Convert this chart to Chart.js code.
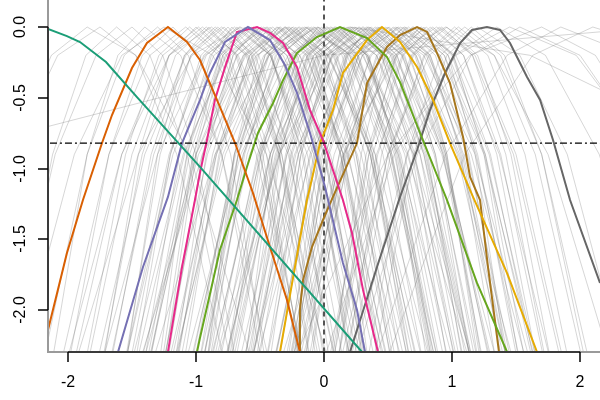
<!DOCTYPE html>
<html>
<head>
<meta charset="utf-8">
<script src="https://cdn.jsdelivr.net/npm/chart.js@4"></script>
<style>
  html, body { margin: 0; padding: 0; background: #fff; }
</style>
</head>
<body>
<canvas id="chart" width="600" height="400"></canvas>
<script>
// axis ticks
const xTicks = [-2, -1, 0, 1, 2];
const yTicks = [0, -0.5, -1, -1.5, -2];
const yTickLabels = ['0.0', '-0.5', '-1.0', '-1.5', '-2.0'];
const cutoff = -0.82;

// highlighted profiles
const tealX = [-2.156, -2.008, -1.906, -1.703, -1.461, -0.969, 0.297];
const tealY = [-0.014, -0.064, -0.106, -0.247, -0.495, -0.989, -2.297];

const orangeX = [-2.156, -2.008, -1.883, -1.734, -1.656, -1.5, -1.383, -1.219, -1.07, -0.969, -0.813, -0.695, -0.555, -0.422, -0.289, -0.188];
const orangeY = [-2.141, -1.597, -1.223, -0.82, -0.622, -0.29, -0.113, 0, -0.106, -0.233, -0.565, -0.82, -1.173, -1.555, -1.929, -2.297];

const purpleX = [-1.609, -1.414, -1.219, -1.109, -0.969, -0.891, -0.773, -0.594, -0.422, -0.305, -0.211, -0.109, 0.008, 0.148, 0.258, 0.32];
const purpleY = [-2.297, -1.696, -1.201, -0.82, -0.516, -0.325, -0.106, 0, -0.092, -0.269, -0.466, -0.749, -1.131, -1.668, -2.0, -2.297];

const pinkX = [-1.219, -1.109, -1.008, -0.969, -0.914, -0.852, -0.773, -0.68, -0.523, -0.422, -0.32, -0.211, -0.109, -0.008, 0.148, 0.219, 0.305, 0.422];
const pinkY = [-2.297, -1.696, -1.223, -1.032, -0.799, -0.516, -0.283, -0.035, 0, -0.042, -0.113, -0.283, -0.587, -0.799, -1.223, -1.456, -1.859, -2.297];

const greenX = [-0.992, -0.969, -0.813, -0.68, -0.602, -0.516, -0.398, -0.32, -0.211, -0.055, 0.125, 0.336, 0.492, 0.594, 0.75, 0.961, 1.195, 1.43];
const greenY = [-2.297, -2.198, -1.576, -1.223, -0.989, -0.749, -0.537, -0.375, -0.184, -0.071, 0, -0.078, -0.212, -0.389, -0.749, -1.223, -1.809, -2.297];

const yellowX = [-0.344, -0.227, -0.133, -0.109, -0.031, 0.07, 0.148, 0.336, 0.453, 0.594, 0.727, 0.852, 0.984, 1.164, 1.43, 1.664];
const yellowY = [-2.297, -1.696, -1.223, -1.131, -0.82, -0.587, -0.325, -0.092, 0, -0.106, -0.283, -0.516, -0.82, -1.201, -1.739, -2.297];

const brownX = [-0.188, -0.188, -0.164, -0.094, -0.008, 0.07, 0.258, 0.336, 0.492, 0.594, 0.727, 0.805, 0.883, 0.984, 1.086, 1.141, 1.219, 1.281, 1.367];
const brownY = [-2.297, -2.0, -1.788, -1.555, -1.364, -1.201, -0.82, -0.396, -0.141, -0.057, 0, -0.035, -0.184, -0.396, -0.777, -1.06, -1.223, -1.696, -2.297];

const darkX = [0.203, 0.414, 0.594, 0.727, 0.828, 0.945, 1.063, 1.156, 1.273, 1.375, 1.453, 1.586, 1.688, 1.789, 1.922, 2.156];
const darkY = [-2.297, -1.696, -1.201, -0.869, -0.587, -0.325, -0.113, -0.021, 0, -0.021, -0.113, -0.353, -0.516, -0.799, -1.223, -1.809];

// background profiles: x positions where each grey curve meets these levels
const greyLevels = [-2.4, -0.9, -0.2, 0, -0.2, -0.9, -2.4];
const greyCurves = [
  [-2.83, -2.45, -2.13, -1.85, -1.47, -1.05, -0.55],
  [-2.89, -2.45, -2.08, -1.75, -1.47, -1.15, -0.77],
  [-2.44, -2.12, -1.86, -1.62, -1.36, -1.07, -0.72],
  [-2.48, -2.10, -1.78, -1.50, -1.26, -1.00, -0.68],
  [-2.13, -1.85, -1.61, -1.40, -1.12, -0.80, -0.42],
  [-2.20, -1.85, -1.56, -1.30, -1.06, -0.80, -0.48],
  [-2.00, -1.68, -1.42, -1.18, -0.97, -0.73, -0.45],
  [-2.06, -1.68, -1.36, -1.08, -0.82, -0.53, -0.18],
  [-1.73, -1.45, -1.21, -1.00, -0.76, -0.50, -0.18],
  [-1.85, -1.50, -1.21, -0.95, -0.67, -0.35, 0.03],
  [-1.55, -1.30, -1.09, -0.90, -0.69, -0.45, -0.17],
  [-1.67, -1.35, -1.09, -0.85, -0.61, -0.35, -0.03],
  [-1.78, -1.40, -1.08, -0.80, -0.54, -0.25, 0.10],
  [-1.48, -1.20, -0.96, -0.75, -0.56, -0.35, -0.10],
  [-1.52, -1.20, -0.94, -0.70, -0.42, -0.10, 0.28],
  [-1.56, -1.21, -0.92, -0.66, -0.42, -0.16, 0.16],
  [-1.27, -1.02, -0.81, -0.62, -0.41, -0.17, 0.11],
  [-1.56, -1.18, -0.86, -0.58, -0.34, -0.08, 0.24],
  [-1.37, -1.05, -0.79, -0.55, -0.29, 0.00, 0.35],
  [-1.23, -0.95, -0.71, -0.50, -0.26, 0.00, 0.32],
  [-1.37, -1.02, -0.73, -0.47, -0.19, 0.13, 0.51],
  [-1.26, -0.94, -0.68, -0.44, -0.25, -0.04, 0.21],
  [-1.38, -1.00, -0.68, -0.40, -0.14, 0.15, 0.50],
  [-1.10, -0.82, -0.58, -0.37, -0.13, 0.13, 0.45],
  [-1.16, -0.84, -0.58, -0.34, -0.06, 0.26, 0.64],
  [-1.20, -0.85, -0.56, -0.30, -0.09, 0.15, 0.43],
  [-0.92, -0.67, -0.46, -0.27, -0.03, 0.23, 0.55],
  [-1.22, -0.84, -0.52, -0.24, 0.04, 0.36, 0.74],
  [-1.02, -0.70, -0.44, -0.20, 0.01, 0.25, 0.53],
  [-0.90, -0.62, -0.38, -0.17, 0.09, 0.38, 0.73],
  [-1.04, -0.69, -0.40, -0.14, 0.10, 0.36, 0.68],
  [-0.92, -0.60, -0.34, -0.10, 0.18, 0.50, 0.88],
  [-1.05, -0.67, -0.35, -0.07, 0.14, 0.38, 0.66],
  [-0.77, -0.49, -0.25, -0.04, 0.20, 0.46, 0.78],
  [-0.82, -0.50, -0.24, 0.00, 0.26, 0.55, 0.90],
  [-0.87, -0.52, -0.23, 0.03, 0.27, 0.53, 0.85],
  [-0.59, -0.34, -0.13, 0.06, 0.34, 0.66, 1.04],
  [-0.89, -0.51, -0.19, 0.09, 0.33, 0.59, 0.91],
  [-0.70, -0.38, -0.12, 0.12, 0.33, 0.57, 0.85],
  [-0.58, -0.30, -0.06, 0.15, 0.41, 0.70, 1.05],
  [-0.72, -0.37, -0.08, 0.18, 0.46, 0.78, 1.16],
  [-0.61, -0.29, -0.03, 0.21, 0.45, 0.71, 1.03],
  [-0.74, -0.36, -0.04, 0.24, 0.45, 0.69, 0.97],
  [-0.46, -0.18, 0.06, 0.27, 0.53, 0.82, 1.17],
  [-0.52, -0.20, 0.06, 0.30, 0.54, 0.80, 1.12],
  [-0.57, -0.22, 0.07, 0.33, 0.61, 0.93, 1.31],
  [-0.29, -0.04, 0.17, 0.36, 0.57, 0.81, 1.09],
  [-0.58, -0.20, 0.12, 0.40, 0.66, 0.95, 1.30],
  [-0.39, -0.07, 0.19, 0.43, 0.67, 0.93, 1.25],
  [-0.27, 0.01, 0.25, 0.46, 0.74, 1.06, 1.44],
  [-0.40, -0.05, 0.24, 0.50, 0.71, 0.95, 1.23],
  [-0.28, 0.04, 0.30, 0.54, 0.80, 1.09, 1.44],
  [-0.40, -0.02, 0.30, 0.58, 0.82, 1.08, 1.40],
  [-0.11, 0.17, 0.41, 0.62, 0.83, 1.07, 1.35],
  [-0.16, 0.16, 0.42, 0.66, 0.94, 1.26, 1.64],
  [-0.20, 0.15, 0.44, 0.70, 0.94, 1.20, 1.52],
  [0.10, 0.35, 0.56, 0.75, 1.01, 1.30, 1.65],
  [-0.18, 0.20, 0.52, 0.80, 1.01, 1.25, 1.53],
  [0.03, 0.35, 0.61, 0.85, 1.09, 1.35, 1.67],
  [0.17, 0.45, 0.69, 0.90, 1.18, 1.50, 1.88],
  [0.06, 0.41, 0.70, 0.96, 1.20, 1.46, 1.78],
  [0.20, 0.52, 0.78, 1.02, 1.28, 1.57, 1.92],
  [0.12, 0.50, 0.82, 1.10, 1.38, 1.70, 2.08],
  [0.38, 0.70, 0.96, 1.20, 1.53, 1.90, 2.34],
  [0.21, 0.65, 1.02, 1.35, 1.73, 2.15, 2.65],
  [0.23, 0.73, 1.15, 1.53, 2.00, 2.53, 3.16],
  [0.38, 0.95, 1.43, 1.85, 2.41, 3.05, 3.81],
  [0.47, 1.10, 1.63, 2.10, 2.81, 3.60, 4.55],
  [-6.50, -3.00, 0.00, 2.60, 3.20, 4.00, 5.00],
  [-0.78, -0.40, -0.08, 0.20, 1.61, 3.20, 5.09],
  [-2.02, -1.58, -1.21, -0.88, -0.60, -0.28, 0.10],
  [-1.29, -1.07, -0.88, -0.72, -0.51, -0.27, 0.01],
  [-1.74, -1.30, -0.93, -0.60, -0.34, -0.05, 0.30],
  [-1.17, -0.92, -0.71, -0.52, -0.19, 0.18, 0.62],
  [-1.51, -1.10, -0.76, -0.45, -0.26, -0.05, 0.20],
  [-0.92, -0.70, -0.51, -0.35, -0.11, 0.15, 0.47],
  [-1.42, -0.98, -0.61, -0.28, 0.03, 0.37, 0.78],
  [-0.95, -0.67, -0.43, -0.22, -0.06, 0.13, 0.35],
  [-1.18, -0.77, -0.43, -0.12, 0.21, 0.58, 1.02],
  [-0.62, -0.40, -0.21, -0.05, 0.16, 0.40, 0.68],
  [-1.09, -0.65, -0.28, 0.05, 0.31, 0.60, 0.95],
  [-0.63, -0.35, -0.11, 0.10, 0.41, 0.75, 1.16],
  [-0.90, -0.49, -0.15, 0.16, 0.35, 0.56, 0.81],
  [-0.43, -0.18, 0.03, 0.22, 0.55, 0.92, 1.36],
  [-0.86, -0.42, -0.05, 0.28, 0.52, 0.78, 1.10],
  [-0.23, -0.01, 0.18, 0.34, 0.62, 0.94, 1.32],
  [-0.64, -0.23, 0.11, 0.42, 0.63, 0.87, 1.15],
  [-0.25, 0.03, 0.27, 0.48, 0.81, 1.18, 1.62],
  [-0.58, -0.14, 0.23, 0.56, 0.75, 0.96, 1.21],
  [0.07, 0.29, 0.48, 0.64, 0.90, 1.19, 1.54],
  [-0.26, 0.12, 0.44, 0.72, 1.03, 1.37, 1.78],
  [0.05, 0.33, 0.57, 0.78, 0.97, 1.18, 1.43],
  [-0.26, 0.18, 0.55, 0.88, 1.16, 1.48, 1.86],
  [-1.45, -0.95, -0.53, -0.15, 0.23, 0.65, 1.15],
  [-0.85, -0.35, 0.07, 0.45, 0.78, 1.15, 1.59],
  [-1.95, -1.45, -1.03, -0.65, -0.32, 0.05, 0.49],
  [-0.35, 0.15, 0.57, 0.95, 1.33, 1.75, 2.25],
  [-2.39, -1.95, -1.58, -1.25, -0.87, -0.45, 0.05],
  [-0.02, 0.55, 1.03, 1.45, 1.97, 2.55, 3.24],
  [-0.26, 0.50, 1.14, 1.70, 2.12, 2.60, 3.17],
  [-1.74, -1.42, -1.16, -0.92, -0.68, -0.42, -0.10],
  [-1.68, -1.33, -1.04, -0.78, -0.57, -0.33, -0.05],
  [-1.41, -1.13, -0.89, -0.68, -0.42, -0.13, 0.22],
  [-1.39, -1.07, -0.81, -0.57, -0.29, 0.03, 0.41],
  [-1.47, -1.09, -0.77, -0.49, -0.25, 0.01, 0.33],
  [-1.15, -0.87, -0.63, -0.42, -0.21, 0.03, 0.31],
  [-1.26, -0.91, -0.62, -0.36, -0.10, 0.19, 0.54],
  [-1.13, -0.81, -0.55, -0.31, -0.03, 0.29, 0.67],
  [-0.98, -0.70, -0.46, -0.25, -0.01, 0.25, 0.57],
  [-1.17, -0.79, -0.47, -0.19, 0.07, 0.36, 0.71],
  [-0.95, -0.63, -0.37, -0.13, 0.08, 0.32, 0.60],
  [-0.98, -0.63, -0.34, -0.08, 0.20, 0.52, 0.90],
  [-0.75, -0.47, -0.23, -0.02, 0.24, 0.53, 0.88],
  [-0.96, -0.58, -0.26, 0.02, 0.26, 0.52, 0.84],
  [-0.74, -0.42, -0.16, 0.08, 0.34, 0.63, 0.98],
  [-0.77, -0.42, -0.13, 0.13, 0.34, 0.58, 0.86],
  [-0.54, -0.26, -0.02, 0.19, 0.47, 0.79, 1.17],
  [-0.57, -0.25, 0.01, 0.25, 0.49, 0.75, 1.07],
  [-0.67, -0.29, 0.03, 0.31, 0.57, 0.86, 1.21],
  [-0.36, -0.08, 0.16, 0.37, 0.61, 0.87, 1.19],
  [-0.46, -0.11, 0.18, 0.44, 0.72, 1.04, 1.42],
  [-0.31, 0.01, 0.27, 0.51, 0.72, 0.96, 1.24],
  [-0.16, 0.12, 0.36, 0.57, 0.83, 1.12, 1.47],
  [-0.27, 0.08, 0.37, 0.63, 0.87, 1.13, 1.45],
  [-0.13, 0.19, 0.45, 0.69, 0.97, 1.29, 1.67],
  [-0.22, 0.16, 0.48, 0.76, 1.00, 1.26, 1.58],
  [0.10, 0.38, 0.62, 0.83, 1.09, 1.38, 1.73],
  [0.10, 0.42, 0.68, 0.92, 1.16, 1.42, 1.74],
  [0.15, 0.50, 0.79, 1.05, 1.33, 1.65, 2.03],
  [-1.87, -1.55, -1.29, -1.05, -0.79, -0.50, -0.15],
  [-1.96, -1.58, -1.26, -0.98, -0.74, -0.48, -0.16],
  [-1.56, -1.28, -1.04, -0.83, -0.59, -0.33, -0.01],
  [0.33, 0.65, 0.91, 1.15, 1.41, 1.70, 2.05],
  [-1.25, -1.00, -0.79, -0.60, -0.41, -0.20, 0.05],
  [-0.79, -0.35, 0.02, 0.35, 0.68, 1.05, 1.49],
  [-1.44, -1.00, -0.63, -0.30, 0.03, 0.40, 0.84],
  [-0.54, -0.10, 0.27, 0.60, 0.91, 1.25, 1.66],
  [-1.35, -0.85, -0.43, -0.05, 0.30, 0.70, 1.17]
];

const toPoints = (xs, ys) => xs.map((x, i) => ({ x: x, y: ys[i] }));

function profile(xs, ys, color) {
  return {
    data: toPoints(xs, ys),
    borderColor: color,
    borderWidth: 2,
    order: 1
  };
}

const datasets = [
  profile(tealX, tealY, '#1B9E77'),
  profile(orangeX, orangeY, '#D95F02'),
  profile(purpleX, purpleY, '#7570B3'),
  profile(pinkX, pinkY, '#E7298A'),
  profile(greenX, greenY, '#66A61E'),
  profile(yellowX, yellowY, '#E6AB02'),
  profile(brownX, brownY, '#A6761D'),
  profile(darkX, darkY, '#666666'),
  {
    // cutoff line
    data: [{ x: -3, y: cutoff }, { x: 3, y: cutoff }],
    borderColor: '#000',
    borderWidth: 1.2,
    borderDash: [2, 3, 7, 3],
    order: 0
  },
  {
    data: [{ x: 0, y: -3 }, { x: 0, y: 1 }],
    borderColor: '#555',
    borderWidth: 2,
    borderDash: [5, 4],
    order: 2
  }
];

greyCurves.forEach(function (xs) {
  datasets.push({
    data: toPoints(xs, greyLevels),
    borderColor: 'rgba(120,120,120,0.3)',
    borderWidth: 1,
    order: 5
  });
});

datasets.forEach(function (d) {
  d.showLine = true;
  d.pointRadius = 0;
  d.tension = 0;
  d.clip = 0;
});

const axesPlugin = {
  id: 'axes',
  afterDraw(chart) {
    const ctx = chart.ctx;
    const a = chart.chartArea;
    const x = chart.scales.x;
    const y = chart.scales.y;
    ctx.save();

    // light frame
    ctx.strokeStyle = '#9a9a9a';
    ctx.lineWidth = 2;
    ctx.beginPath();
    ctx.moveTo(a.left, a.top);
    ctx.lineTo(a.left, a.bottom);
    ctx.lineTo(a.right, a.bottom);
    ctx.stroke();

    // axis lines between first and last tick
    ctx.strokeStyle = '#3a3a3a';
    ctx.beginPath();
    ctx.moveTo(x.getPixelForValue(xTicks[0]), a.bottom);
    ctx.lineTo(x.getPixelForValue(xTicks[xTicks.length - 1]), a.bottom);
    ctx.moveTo(a.left, y.getPixelForValue(yTicks[0]));
    ctx.lineTo(a.left, y.getPixelForValue(yTicks[yTicks.length - 1]));
    ctx.stroke();

    ctx.strokeStyle = '#000';
    ctx.lineWidth = 1.5;
    ctx.fillStyle = '#000';
    ctx.font = '16px "Liberation Sans", Arial, sans-serif';

    ctx.textAlign = 'center';
    ctx.textBaseline = 'alphabetic';
    xTicks.forEach(function (v) {
      const px = Math.round(x.getPixelForValue(v));
      ctx.beginPath();
      ctx.moveTo(px, a.bottom);
      ctx.lineTo(px, a.bottom + 10);
      ctx.stroke();
      ctx.fillText(String(v), px, 387);
    });

    yTicks.forEach(function (v, i) {
      const py = Math.round(y.getPixelForValue(v));
      ctx.beginPath();
      ctx.moveTo(a.left, py);
      ctx.lineTo(a.left - 10, py);
      ctx.stroke();
      ctx.save();
      ctx.translate(25, py);
      ctx.rotate(-Math.PI / 2);
      ctx.fillText(yTickLabels[i], 0, 0);
      ctx.restore();
    });

    ctx.restore();
  }
};

new Chart(document.getElementById('chart'), {
  type: 'scatter',
  data: { datasets: datasets },
  options: {
    responsive: false,
    animation: false,
    devicePixelRatio: 1,
    layout: { padding: { left: 48, bottom: 48, top: 0, right: 0 } },
    plugins: { legend: { display: false }, tooltip: { enabled: false } },
    scales: {
      x: { type: 'linear', display: false, min: -2.156, max: 2.156 },
      y: { type: 'linear', display: false, min: -2.297, max: 0.191 }
    }
  },
  plugins: [axesPlugin]
});
</script>
</body>
</html>
